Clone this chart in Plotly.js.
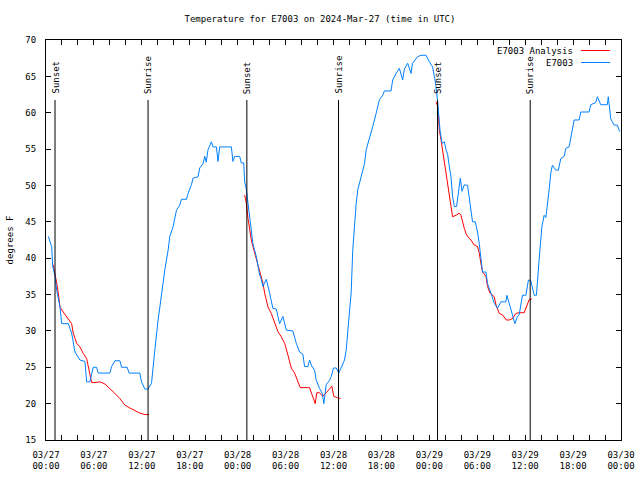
<!DOCTYPE html>
<html>
<head>
<meta charset="utf-8">
<script src="https://cdn.plot.ly/plotly-3.0.1.min.js"></script>
<style>html,body{margin:0;padding:0;background:#fff;}#chart{width:640px;height:480px;}</style>
</head>
<body>
<div id="chart"></div>
<script>
// Hours since 2024-03-27 00:00 UTC
const obsHours = [0.29,0.71,0.84,1.13,1.34,1.75,1.96,2.79,3.21,3.63,4.25,4.88,5.09,5.5,5.91,6.34,6.54,8.0,8.21,8.63,9.25,9.46,10.16,10.41,11.75,11.96,12.38,12.79,13.21,13.41,13.63,14.04,14.46,14.88,15.29,15.5,15.91,16.34,16.75,16.96,17.59,17.79,18.21,18.41,19.04,19.25,19.66,19.88,20.06,20.29,20.71,20.91,21.34,21.54,21.75,23.21,23.41,23.63,24.25,24.46,24.75,24.88,25.09,25.29,25.5,25.71,25.91,26.34,26.75,26.96,27.16,27.59,27.79,28.0,28.41,28.84,29.04,29.25,29.66,30.09,30.91,31.34,31.75,32.16,32.38,32.79,33.0,33.21,33.63,33.84,34.25,34.59,34.79,35.09,35.5,35.71,36.0,36.34,36.66,36.96,37.38,37.59,37.79,38.0,38.21,38.41,38.63,38.84,39.04,39.46,39.88,40.09,40.5,40.91,41.34,41.75,42.16,42.38,43.21,43.41,43.84,44.25,44.66,44.88,45.29,45.71,45.88,46.54,46.96,47.59,48.0,48.41,48.63,48.84,49.04,49.16,49.34,49.59,49.88,50.09,50.29,50.5,50.71,50.91,51.13,51.41,51.66,51.88,52.09,52.38,52.79,53.0,53.21,53.41,53.75,54.04,54.25,54.46,54.66,55.09,55.29,55.71,56.13,56.54,56.96,57.59,57.71,58.0,58.41,58.71,59.04,59.25,59.66,60.09,60.41,60.71,61.13,61.41,61.75,62.09,62.38,62.59,63.0,63.21,63.41,63.84,64.16,64.46,64.88,65.09,65.5,65.71,65.91,66.13,66.75,66.96,68.0,68.21,68.84,69.04,69.46,70.29,70.41,70.71,71.13,71.54,71.84];
const obsTemps = [43.0,41.6,38.9,37.5,35.6,33.3,31.0,31.0,29.7,27.1,26.0,25.8,23.0,23.0,25.0,25.0,24.2,24.2,25.1,25.9,25.9,25.0,25.0,24.2,24.2,23.0,22.0,22.0,22.8,25.5,27.4,31.5,35.2,38.4,41.1,43.0,44.3,46.6,47.3,48.1,48.1,48.9,50.1,51.0,51.2,52.4,53.0,54.0,53.2,54.9,56.0,55.3,55.3,53.3,55.3,55.3,53.3,54.0,54.0,53.1,53.1,50.5,49.4,47.5,45.5,43.9,42.0,40.2,37.7,37.1,36.1,37.1,36.3,35.2,33.1,33.0,32.0,31.0,32.0,30.1,30.0,28.3,27.1,26.8,25.1,25.1,26.0,25.3,24.6,23.2,22.1,21.4,20.0,22.6,23.2,23.7,24.9,24.9,24.2,24.9,26.0,27.4,30.1,32.4,35.2,41.1,45.0,47.5,49.4,51.2,53.0,54.9,56.7,58.1,59.9,61.8,62.4,63.0,63.0,64.5,65.4,66.1,64.5,66.0,66.8,65.4,66.8,67.7,67.9,67.9,67.0,66.3,65.0,63.6,61.5,59.5,57.6,55.8,56.0,54.9,54.3,52.6,51.2,48.5,47.1,47.1,48.9,51.0,49.2,50.1,50.0,48.2,47.1,45.0,45.0,43.6,42.0,39.8,38.1,38.1,36.5,35.2,33.8,33.1,34.0,34.0,34.9,33.8,32.2,31.0,32.0,32.2,34.9,34.9,37.0,36.9,34.9,34.9,39.8,44.3,45.9,45.6,49.4,51.7,52.8,52.1,52.1,53.7,54.0,55.1,55.3,56.7,58.1,59.0,59.0,60.1,60.1,61.1,61.4,62.2,61.1,61.1,62.2,59.2,58.3,58.3,57.4];

// Analysis series (null = gap between nightly analyses)
const anaHours = [0.91,1.13,1.34,1.54,1.75,2.16,2.79,3.21,3.41,3.84,4.25,4.66,5.09,5.29,5.5,5.71,6.13,6.75,7.38,8.0,8.63,9.25,9.88,10.5,11.13,11.75,12.38,12.91,null,24.88,25.09,25.29,25.5,25.71,25.91,26.13,26.34,26.75,27.16,27.38,27.59,27.79,28.21,28.63,29.04,29.46,29.88,30.29,30.71,31.13,31.54,31.84,33.0,33.34,33.71,33.91,34.25,34.66,35.09,35.41,35.79,36.04,36.54,36.88,null,48.84,49.04,49.16,49.25,49.46,49.66,49.88,50.09,50.29,50.5,50.71,50.91,51.34,51.75,51.96,52.16,52.38,52.59,52.79,53.21,53.63,54.04,54.25,54.46,54.66,55.09,55.29,55.59,56.13,56.34,56.75,57.16,57.66,58.0,58.41,58.84,59.25,59.88,60.09,60.5,60.84];
const anaTemps = [39.1,37.5,36.6,35.2,33.3,32.6,31.7,31.0,29.7,28.3,27.8,26.9,26.2,25.1,23.9,22.9,22.9,23.0,22.7,22.1,21.4,20.7,19.8,19.4,19.0,18.7,18.5,18.5,null,48.7,47.5,45.5,43.9,42.5,41.6,40.7,39.8,38.4,36.6,35.2,34.3,33.3,32.4,31.0,29.9,29.2,28.3,26.7,24.9,24.2,23.0,22.2,22.2,21.0,20.0,21.5,21.5,21.0,21.6,21.9,22.4,21.0,20.8,20.7,null,61.5,60.9,59.2,57.6,56.3,54.9,53.0,51.7,50.1,48.5,46.9,45.7,45.9,46.2,45.9,44.8,44.1,43.4,43.0,42.5,41.8,41.6,40.7,39.3,38.1,37.5,36.1,35.2,34.7,33.6,32.4,32.2,31.5,31.5,31.7,32.4,32.5,32.5,33.1,34.3,34.4];

const sunLabels = ["Sunset","Sunrise","Sunset","Sunrise","Sunset","Sunrise"];
const sunHours = [1.13,12.78,25.15,36.63,49.03,60.63];

const tickHours = [0,6,12,18,24,30,36,42,48,54,60,66,72];
const tickDates = ["03/27","03/27","03/27","03/27","03/28","03/28","03/28","03/28","03/29","03/29","03/29","03/29","03/30"];
const tickTimes = ["00:00","06:00","12:00","18:00","00:00","06:00","12:00","18:00","00:00","06:00","12:00","18:00","00:00"];

const seriesNames = ["E7003 Analysis","E7003"];
const seriesColors = ["#ff0000","#0080ff"];

const FONT = "DejaVu Sans Mono, monospace";
const tf = {family: FONT, size: 9, color: "#000"};

const traces = [
  {x: anaHours, y: anaTemps, mode: "lines", name: seriesNames[0], connectgaps: false,
   line: {color: seriesColors[0], width: 1}, showlegend: false},
  {x: obsHours, y: obsTemps, mode: "lines", name: seriesNames[1],
   line: {color: seriesColors[1], width: 1}, showlegend: false}
];

const shapes = [];
const annotations = [];
sunHours.forEach((h, i) => {
  shapes.push({type: "line", xref: "x", yref: "paper", x0: h, x1: h, y0: 0, y1: 0.85,
               line: {color: "#000", width: 1}});
  annotations.push({x: h, xref: "x", y: 0.86, yref: "paper", text: sunLabels[i],
                    textangle: -90, showarrow: false, xanchor: "center", yanchor: "bottom",
                    font: tf});
});
// legend (gnuplot style: text right-aligned, sample to the right)
seriesNames.forEach((n, i) => {
  const yp = 1 - (10.5 + 12 * i) / 400;
  annotations.push({x: 529/575, xref: "paper", y: yp, yref: "paper", text: n, showarrow: false,
                    xanchor: "right", yanchor: "middle", font: tf});
  shapes.push({type: "line", xref: "paper", yref: "paper", x0: 535/575, x1: 564/575, y0: yp, y1: yp,
               line: {color: seriesColors[i], width: 1}});
});

const layout = {
  width: 640, height: 480,
  margin: {l: 46, r: 19, t: 40, b: 40},
  paper_bgcolor: "#fff", plot_bgcolor: "#fff",
  font: tf,
  title: {text: "Temperature for E7003 on 2024-Mar-27 (time in UTC)", x: 0.5, xanchor: "center",
          y: 1 - 19/480, yanchor: "middle", font: tf},
  xaxis: {range: [0, 72], tickmode: "array", tickvals: tickHours, ticktext: tickDates,
          ticks: "inside", ticklen: 5, tickcolor: "#000", tickwidth: 1, ticklabelstandoff: 6,
          showline: true, linecolor: "#000", linewidth: 1, mirror: "ticks",
          showgrid: false, zeroline: false, fixedrange: true,
          minor: {tickmode: "linear", tick0: 0, dtick: 2, ticks: "inside", ticklen: 5, tickcolor: "#000", showgrid: false},
          tickfont: tf},
  xaxis2: {range: [0, 72], overlaying: "x", anchor: "y", side: "bottom",
           tickmode: "array", tickvals: tickHours, ticktext: tickTimes,
           ticks: "", showline: false, showgrid: false, zeroline: false, fixedrange: true,
           ticklabelstandoff: 19, tickfont: tf},
  yaxis: {range: [15, 70], dtick: 5, tick0: 15,
          ticks: "inside", ticklen: 5, tickcolor: "#000", tickwidth: 1, ticklabelstandoff: 7,
          showline: true, linecolor: "#000", linewidth: 1, mirror: "ticks",
          showgrid: false, zeroline: false, fixedrange: true,
          title: {text: "degrees F", font: tf, standoff: 10},
          tickfont: tf},
  shapes: shapes,
  annotations: annotations,
  showlegend: false
};

// the second x axis carries the time-of-day line of each tick label
traces.push({x: [], y: [], xaxis: "x2", yaxis: "y", mode: "lines", showlegend: false, hoverinfo: "skip"});

Plotly.newPlot("chart", traces, layout, {staticPlot: true, displayModeBar: false});
</script>
</body>
</html>
